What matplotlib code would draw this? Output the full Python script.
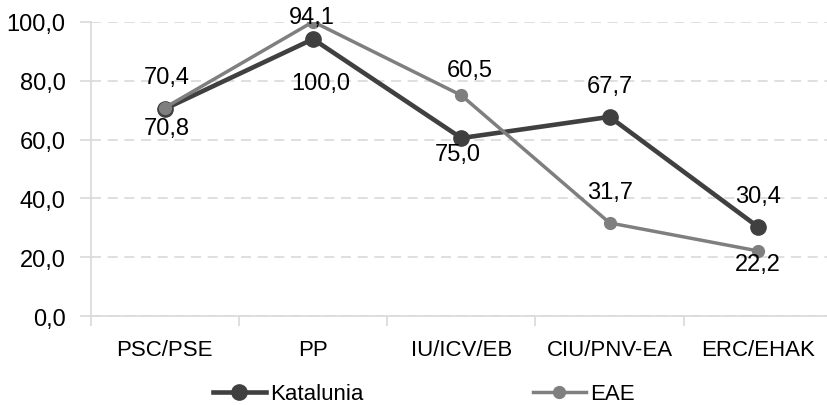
import matplotlib
matplotlib.use("Agg")
import matplotlib.pyplot as plt
from matplotlib import font_manager
from matplotlib.ticker import FixedLocator, FuncFormatter

categories = ["PSC/PSE", "PP", "IU/ICV/EB", "CIU/PNV-EA", "ERC/EHAK"]
katalunia = [70.4, 94.1, 60.5, 67.7, 30.4]
eae = [70.8, 100.0, 75.0, 31.7, 22.2]
kat_labels = ["70,4", "94,1", "60,5", "67,7", "30,4"]
eae_labels = ["70,8", "100,0", "75,0", "31,7", "22,2"]
yticks = [0, 20, 40, 60, 80, 100]

names = {f.name for f in font_manager.fontManager.ttflist}
narrow = "Liberation Sans Narrow" if "Liberation Sans Narrow" in names else "Liberation Sans"

plt.rcParams['font.family'] = ['Liberation Sans', 'DejaVu Sans']

fig = plt.figure(figsize=(8.27, 4.06), dpi=100)
ax = fig.add_axes([90.7/827, 1-317.3/406, (832-90.7)/827, (317.3-22.7)/406])

x = list(range(len(categories)))
ax.plot(x, katalunia, color="#404040", lw=3.3, marker="o", ms=11, zorder=3, label="Katalunia")
ax.plot(x, eae, color="#7f7f7f", lw=2.5, marker="o", ms=8.5, zorder=4, label="EAE")

kat_off = [(2, 31.6), (-1, 22), (8, 68), (0, 31), (0, 31)]
eae_off = [(2, -20), (8, -61), (-4, -59), (0, 30.6), (0, -13)]
for i in x:
    ax.annotate(kat_labels[i], (x[i], katalunia[i]), xytext=kat_off[i], textcoords="offset pixels",
                ha="center", va="center", fontsize=17, color="#000000", zorder=5)
    ax.annotate(eae_labels[i], (x[i], eae[i]), xytext=eae_off[i], textcoords="offset pixels",
                ha="center", va="center", fontsize=17, color="#000000", zorder=5)

ax.set_xlim(-0.5, len(categories) - 0.5)
ax.set_ylim(0, 100)
ax.set_yticks(yticks)
ax.yaxis.set_major_formatter(FuncFormatter(lambda v, p: f"{v:.1f}".replace(".", ",")))
ax.grid(axis="y", color="#d9d9d9", linestyle=(0, (6, 4)), lw=1.2, zorder=0)
ax.tick_params(axis="y", length=8, color="#d9d9d9", width=1.2, labelsize=17, pad=10)

ax.set_xticks(x)
ax.set_xticklabels(categories, fontfamily=[narrow, 'DejaVu Sans'], fontsize=16)
ax.xaxis.set_minor_locator(FixedLocator([i - 0.5 for i in range(len(categories) + 1)]))
ax.tick_params(axis="x", which="major", length=0, pad=16)
ax.tick_params(axis="x", which="minor", length=7, color="#d9d9d9", width=1.2)

for s in ["top", "right"]:
    ax.spines[s].set_visible(False)
for s in ["left", "bottom"]:
    ax.spines[s].set_color("#d9d9d9")
    ax.spines[s].set_linewidth(1.2)

leg = fig.legend(loc="center", bbox_to_anchor=(424/827, 1-395/406), ncol=2, frameon=False,
                 prop={"family": [narrow, 'DejaVu Sans'], "size": 16},
                 handlelength=2.4, handletextpad=0.2, columnspacing=7.6)

fig.savefig("out.png", dpi=100)
